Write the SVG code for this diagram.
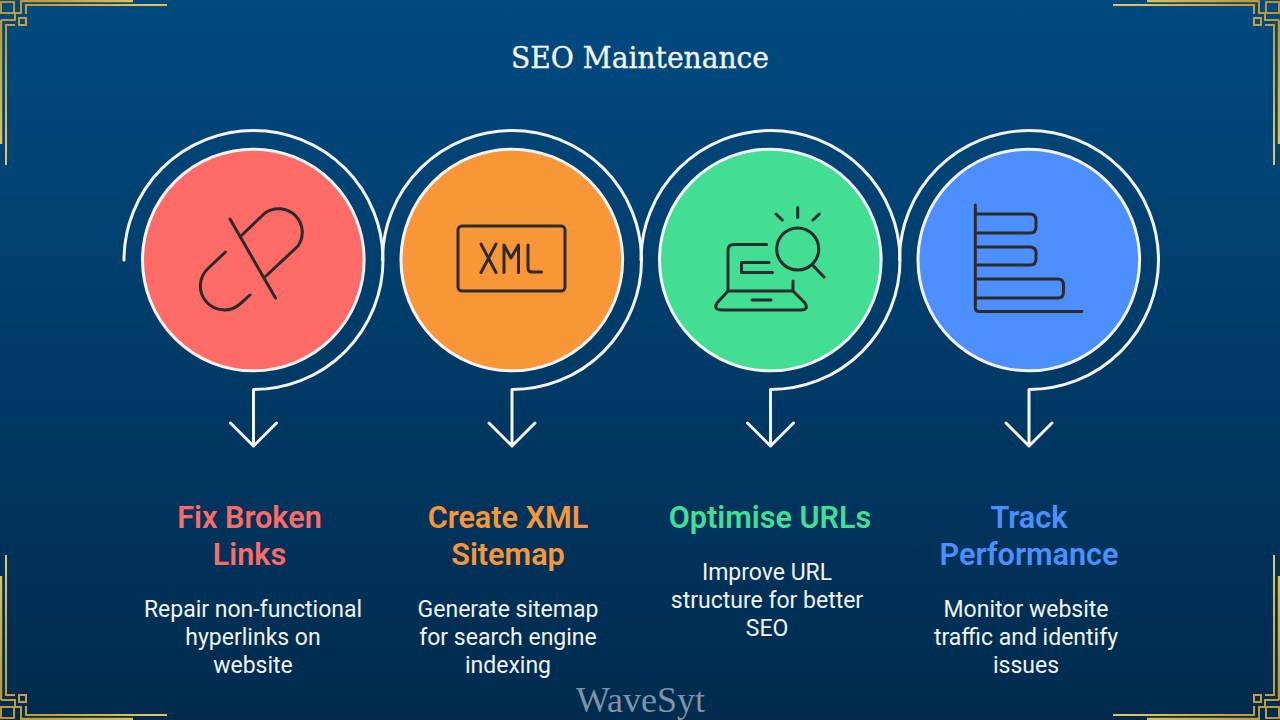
<svg xmlns="http://www.w3.org/2000/svg" xmlns:xlink="http://www.w3.org/1999/xlink" width="1280" height="720" viewBox="0 0 1280 720">
<defs>
<linearGradient id="bg" x1="0" y1="0" x2="0" y2="1"><stop offset="0" stop-color="#004a80"/><stop offset="1" stop-color="#002b4e"/></linearGradient>
<linearGradient id="gold" gradientUnits="userSpaceOnUse" x1="0" y1="0" x2="160" y2="160"><stop offset="0" stop-color="#b8902f"/><stop offset="0.5" stop-color="#e4c85a"/><stop offset="1" stop-color="#b48a2a"/></linearGradient>
<g id="corner" fill="none" stroke="url(#gold)">
<path stroke-width="2" d="M1 2H14V13H1Z"/>
<path stroke-width="2" d="M21 0V13H14M1 20H15V14"/>
<path stroke-width="2.4" d="M21 1H133M1 20V144"/>
<path stroke-width="2" d="M167 5H26V14M15 25H6V165"/>
<path stroke-width="2" d="M19 18H26V25H19Z"/>
</g>
<g id="arc"><path class="ln" d="M124 260A129.5 129.5 0 1 1 253.5 389.5V446M230.5 423L253.5 446L276.5 423"/></g>
</defs>
<style>
.ln{fill:none;stroke:#f4f4f4;stroke-width:3;stroke-linecap:round;stroke-linejoin:round}
.disc{stroke:#f4f4f4;stroke-width:3}
.ic{fill:none;stroke:#2b2b2b;stroke-width:3;stroke-linecap:round;stroke-linejoin:round}
text{text-anchor:middle;font-family:Roboto,"Liberation Sans",sans-serif}
.h{font-size:30.6px;font-weight:600}
.b{font-size:23px;fill:#f0f4f8}
</style>
<rect width="1280" height="720" fill="url(#bg)"/>
<g id="frame">
<use xlink:href="#corner"/>
<use xlink:href="#corner" transform="matrix(-1 0 0 1 1280 0)"/>
<use xlink:href="#corner" transform="matrix(1 0 0 -1 0 720)"/>
<use xlink:href="#corner" transform="matrix(-1 0 0 -1 1280 720)"/>
</g>
<text id="title" x="640" y="68" font-size="30" fill="#f4f6f8" stroke="#f4f6f8" stroke-width="0.35" style="font-family:'DejaVu Serif',serif" textLength="258" lengthAdjust="spacingAndGlyphs">SEO Maintenance</text>
<g id="connectors">
<use xlink:href="#arc"/>
<use xlink:href="#arc" x="258.5"/>
<use xlink:href="#arc" x="517"/>
<use xlink:href="#arc" x="775.5"/>
</g>
<g id="node1">
<circle class="disc" cx="253.3" cy="260" r="110.8" fill="#ff6b66"/>
<path class="ic" d="M230 219L275.500 298M242 235L265 213A23.700 23.700 0 0 1 298 246L266 276M225.500 252L208 268.500A23.900 23.900 0 0 0 240 304L250 295"/>
<text class="h" x="249.500" y="527.500" fill="#ff6b66">Fix Broken</text>
<text class="h" x="249.500" y="564.500" fill="#ff6b66">Links</text>
<text class="b" x="253" y="617.300">Repair non-functional</text>
<text class="b" x="253" y="645.300">hyperlinks on</text>
<text class="b" x="253" y="673.300">website</text>
</g>
<g id="node2">
<circle class="disc" cx="511.800" cy="260" r="110.8" fill="#f99738"/>
<rect class="ic" x="458" y="226" width="107" height="65" rx="4"/>
<path class="ic" d="M481 244L496 272.500M496 244L481 272.500M504 272.500V245L511 258L518.500 245V272.500M528 245V268Q528 272 532 272H541.500"/>
<text class="h" x="508" y="527.500" fill="#f99738">Create XML</text>
<text class="h" x="508" y="564.500" fill="#f99738">Sitemap</text>
<text class="b" x="508" y="617.300">Generate sitemap</text>
<text class="b" x="508" y="645.300">for search engine</text>
<text class="b" x="508" y="673.300">indexing</text>
</g>
<g id="node3">
<circle class="disc" cx="770.300" cy="260" r="110.8" fill="#42de94"/>
<circle class="ic" cx="797.700" cy="249" r="21"/>
<path class="ic" d="M813 265.500L824 277M797.700 207.500V217.500M776 214L782.300 220M819.300 214L813 220M766.500 244.500H734Q728 244.500 728 250V291M769 262.500H741.500V272.500H772.500M793 281V291M728 291H793L805 303Q809 310 801 310H722Q713 310 717 303ZM752 300H771"/>
<text class="h" x="770" y="527.500" fill="#42de94">Optimise URLs</text>
<text class="b" x="767" y="580.300">Improve URL</text>
<text class="b" x="767" y="608.300">structure for better</text>
<text class="b" x="767" y="636.300">SEO</text>
</g>
<g id="node4">
<circle class="disc" cx="1028.800" cy="260" r="110.8" fill="#4e8fff"/>
<path class="ic" d="M975.300 205V308Q975.300 311.500 979 311.500H1081.700M975.300 214H1030Q1036 214 1036 220V227Q1036 233 1030 233H975.300M975.300 247H1030Q1036 247 1036 253V259Q1036 265 1030 265H975.300M975.300 279H1058Q1063.500 279 1063.500 285V292Q1063.500 298 1058 298H975.300"/>
<text class="h" x="1029" y="527.500" fill="#4e8fff">Track</text>
<text class="h" x="1029" y="564.500" fill="#4e8fff">Performance</text>
<text class="b" x="1026" y="617.300">Monitor website</text>
<text class="b" x="1026" y="645.300">traffic and identify</text>
<text class="b" x="1026" y="673.300">issues</text>
</g>
<text id="wm" x="640.500" y="712" font-size="36" fill="#7d93a8" style="font-family:'Liberation Serif',serif">WaveSyt</text>
</svg>
